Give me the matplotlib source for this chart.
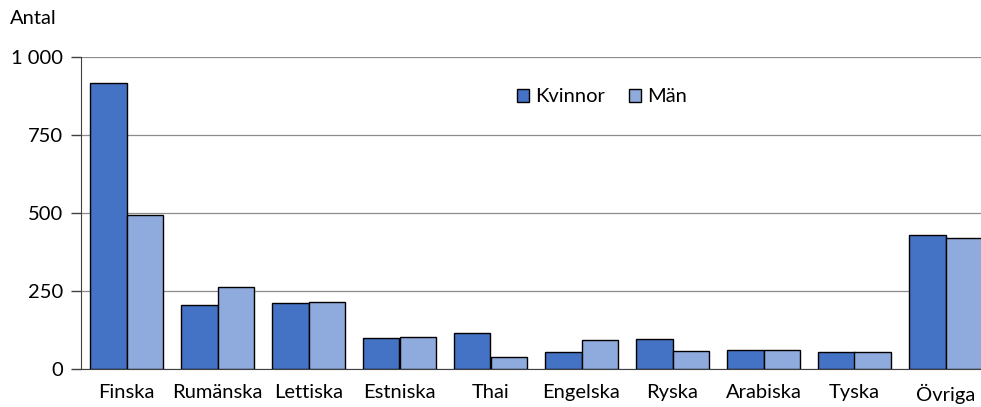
import matplotlib
matplotlib.use("Agg")
import matplotlib.pyplot as plt
import numpy as np

categories = ["Finska", "Rumänska", "Lettiska", "Estniska", "Thai", "Engelska", "Ryska", "Arabiska", "Tyska", "Övriga"]
kvinnor = [918, 205, 212, 99, 115, 55, 96, 62, 54, 428]
man = [492, 263, 214, 103, 38, 93, 58, 61, 54, 420]
yticks = [0, 250, 500, 750, 1000]
ytick_labels = ["0", "250", "500", "750", "1 000"]

plt.rcParams['font.family'] = ['Lato', 'DejaVu Sans']
fs = 14.5

fig = plt.figure(figsize=(9.81, 4.07), dpi=100)
ax = fig.add_axes([81/981, 38/407, 910/981, 312/407])

x = np.arange(len(categories))
w = 0.4
ax.bar(x - w/2, kvinnor, w, color="#4472C4", edgecolor="black", linewidth=1, label="Kvinnor", zorder=3)
ax.bar(x + w/2, man, w, color="#8FAADC", edgecolor="black", linewidth=1, label="Män", zorder=3)

ax.set_xlim(-0.5, 9.5)
ax.set_ylim(0, 1000)
ax.set_yticks(yticks)
ax.set_yticklabels(ytick_labels, fontsize=fs)
ax.set_xticks(x)
ax.set_xticklabels(categories, fontsize=fs)
ax.tick_params(axis='x', length=0, pad=11)
ax.tick_params(axis='y', length=7, width=1, color="#404040", pad=6)
ax.yaxis.grid(True, color="#8c8c8c", linewidth=0.9, zorder=0)
for s in ["top", "right"]:
    ax.spines[s].set_visible(False)
ax.spines["left"].set_color("#404040")
ax.spines["bottom"].set_color("#404040")

fig.text(10/981, 1 - 18/407, "Antal", fontsize=fs, va="center", ha="left")

leg = ax.legend(loc="center", bbox_to_anchor=((602-81)/910, (369-97)/312), ncol=2, frameon=False,
                fontsize=fs, handlelength=0.6, handleheight=0.6, handletextpad=0.3, columnspacing=1.2)

fig.savefig("out.png", dpi=100)
